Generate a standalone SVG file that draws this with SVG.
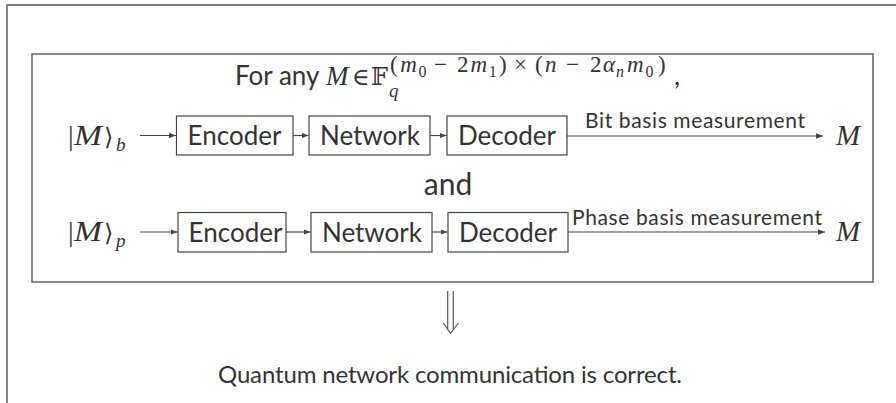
<svg xmlns="http://www.w3.org/2000/svg" width="896" height="403" viewBox="0 0 896 403">
  <style>
    .frame { fill: none; stroke: #555; stroke-width: 1.4; }
    .box { fill: #fff; stroke: #444; stroke-width: 1.2; }
    .lbl { font-family: Lato, "Open Sans", sans-serif; fill: #333; }
    .big { font-size: 26px; }
    .small { font-size: 21px; }
    .math { font-family: "Liberation Serif", "DejaVu Serif", serif; font-style: italic; fill: #333; }
    .up { font-style: normal; }
    .sup { font-size: 23px; }
    .sub2 { font-size: 16px; }
    .wire { stroke: #444; stroke-width: 1.2; fill: none; }
    .dbl { stroke: #555; stroke-width: 1.2; fill: none; }
  </style>
  <defs>
    <marker id="tip" viewBox="0 0 10 10" refX="10" refY="5" markerWidth="7" markerHeight="7" markerUnits="userSpaceOnUse" orient="auto">
      <path d="M0,1 L10,5 L0,9 Z" fill="#444"/>
    </marker>
  </defs>

  <!-- outer frame (top and left edges) -->
  <path class="frame" d="M7,403 V5 H896"/>

  <!-- statement box -->
  <rect class="frame" x="32" y="54" width="841" height="228"/>

  <!-- heading with the field condition -->
  <g id="heading">
    <text class="lbl" x="235" y="85" font-size="26">For any</text>
    <text class="math" x="326" y="85" font-size="27">M</text>
    <text class="math up" x="352" y="85" font-size="24" font-family="DejaVu Serif, serif">∈</text>
    <text class="math up" x="371" y="85" font-size="24" font-family="DejaVu Sans, sans-serif">𝔽</text>
    <text class="math" x="389" y="97" font-size="19">q</text>
    <!-- exponent (m0 - 2m1) x (n - 2 alpha_n m0) -->
    <g class="math sup">
      <text class="up" x="390" y="72">(</text>
      <text x="400.3" y="72">m</text>
      <text class="up sub2" x="418.5" y="77">0</text>
      <text class="up" x="434" y="72">−</text>
      <text class="up" x="457" y="72">2</text>
      <text x="470.5" y="72">m</text>
      <text class="up sub2" x="488.7" y="77">1</text>
      <text class="up" x="499" y="72">)</text>
      <text class="up" x="514" y="72">×</text>
      <text class="up" x="535" y="72">(</text>
      <text x="545" y="72">n</text>
      <text class="up" x="566" y="72">−</text>
      <text class="up" x="590" y="72">2</text>
      <text x="603" y="72">α</text>
      <text class="sub2" x="616" y="77">n</text>
      <text x="627" y="72">m</text>
      <text class="up sub2" x="645.5" y="77">0</text>
      <text class="up" x="658" y="72">)</text>
    </g>
    <text class="lbl" x="674" y="85" font-size="27">,</text>
  </g>

  <!-- bit basis row -->
  <g id="in-b">
    <text class="math up" x="68" y="145" font-size="28">|</text>
    <text class="math" x="74" y="145" font-size="30" textLength="28" lengthAdjust="spacingAndGlyphs">M</text>
    <text class="math up" x="104" y="145" font-size="24" font-family="DejaVu Serif, serif">⟩</text>
    <text class="math" x="116" y="151" font-size="19">b</text>
  </g>
  <g id="enc-b">
    <rect class="box" x="176.5" y="116" width="116.5" height="39"/>
    <text class="lbl big" x="234.5" y="145" text-anchor="middle">Encoder</text>
  </g>
  <g id="net-b">
    <rect class="box" x="309" y="116" width="121" height="39"/>
    <text class="lbl big" x="370" y="145" text-anchor="middle">Network</text>
  </g>
  <g id="dec-b">
    <rect class="box" x="447" y="116" width="120" height="39"/>
    <text class="lbl big" x="507" y="145" text-anchor="middle">Decoder</text>
  </g>
  <g id="out-b">
    <text class="math" x="836" y="145" font-size="29">M</text>
  </g>

  <!-- "and" between the rows -->
  <g id="and">
    <text class="lbl" x="448" y="195" font-size="30" text-anchor="middle">and</text>
  </g>

  <!-- phase basis row -->
  <g id="in-p">
    <text class="math up" x="68" y="241" font-size="28">|</text>
    <text class="math" x="74" y="241" font-size="30" textLength="28" lengthAdjust="spacingAndGlyphs">M</text>
    <text class="math up" x="104" y="241" font-size="24" font-family="DejaVu Serif, serif">⟩</text>
    <text class="math" x="116" y="247" font-size="19">p</text>
  </g>
  <g id="enc-p">
    <rect class="box" x="178" y="212.5" width="108" height="39.5"/>
    <text class="lbl big" x="235.5" y="241.5" text-anchor="middle">Encoder</text>
  </g>
  <g id="net-p">
    <rect class="box" x="311" y="212.5" width="121" height="39.5"/>
    <text class="lbl big" x="372" y="241.5" text-anchor="middle">Network</text>
  </g>
  <g id="dec-p">
    <rect class="box" x="448" y="212.5" width="120" height="39.5"/>
    <text class="lbl big" x="508" y="241.5" text-anchor="middle">Decoder</text>
  </g>
  <g id="out-p">
    <text class="math" x="836" y="241" font-size="29">M</text>
  </g>

  <!-- conclusion -->
  <g id="conclusion">
    <text class="lbl" x="218" y="383" font-size="24" textLength="464" lengthAdjust="spacing">Quantum network communication is correct.</text>
  </g>

  <!-- connectors -->
  <g id="connectors">
    <line class="wire" x1="140" y1="135.5" x2="176" y2="135.5" marker-end="url(#tip)"/>
    <line class="wire" x1="293" y1="135.5" x2="308.5" y2="135.5" marker-end="url(#tip)"/>
    <line class="wire" x1="430" y1="135.5" x2="446.5" y2="135.5" marker-end="url(#tip)"/>
    <line class="wire" x1="567" y1="136" x2="823" y2="136" marker-end="url(#tip)"/>
    <text class="lbl small" x="585" y="128" textLength="220" lengthAdjust="spacing">Bit basis measurement</text>

    <line class="wire" x1="140" y1="232" x2="177.5" y2="232" marker-end="url(#tip)"/>
    <line class="wire" x1="286" y1="232" x2="310.5" y2="232" marker-end="url(#tip)"/>
    <line class="wire" x1="432" y1="232" x2="447.5" y2="232" marker-end="url(#tip)"/>
    <line class="wire" x1="568" y1="232" x2="825" y2="232" marker-end="url(#tip)"/>
    <text class="lbl small" x="572" y="225" textLength="250" lengthAdjust="spacing">Phase basis measurement</text>

    <!-- implication arrow -->
    <path class="dbl" d="M447.7,291 V330 M453.3,291 V330 M443.3,323 L450.5,333.3 L458.5,323"/>
  </g>
</svg>
